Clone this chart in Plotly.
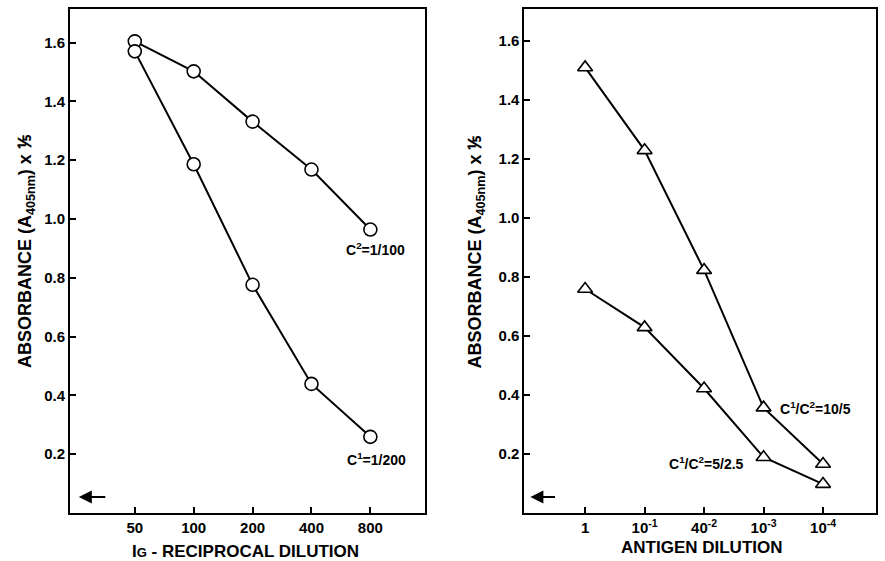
import plotly.graph_objects as go

# ---- data ----
ig_dilution = ["50", "100", "200", "400", "800"]
c2_100 = [1.604, 1.502, 1.331, 1.168, 0.964]
c1_200 = [1.570, 1.186, 0.776, 0.439, 0.259]

antigen_dilution = ["1", "10<sup>-1</sup>", "40<sup>-2</sup>", "10<sup>-3</sup>", "10<sup>-4</sup>"]
ratio_10_5 = [1.510, 1.229, 0.823, 0.357, 0.166]
ratio_5_25 = [0.759, 0.629, 0.422, 0.189, 0.098]

y_ticks = [0.2, 0.4, 0.6, 0.8, 1.0, 1.2, 1.4, 1.6]
y_ticktext = ["0.2", "0.4", "0.6", "0.8", "1.0", "1.2", "1.4", "1.6"]
blank_level = 0.054

FONT = "Liberation Sans, Arial, sans-serif"

fig = go.Figure()

line_style = dict(color="black", width=2)
circ = dict(symbol="circle", size=13, color="white", line=dict(color="black", width=1.6))
tri = dict(symbol="triangle-up", size=13, color="white", line=dict(color="black", width=1.6))

fig.add_trace(go.Scatter(x=ig_dilution, y=c2_100, mode="lines+markers", line=line_style,
                         marker=circ, xaxis="x", yaxis="y", showlegend=False))
fig.add_trace(go.Scatter(x=ig_dilution, y=c1_200, mode="lines+markers", line=line_style,
                         marker=circ, xaxis="x", yaxis="y", showlegend=False))
fig.add_trace(go.Scatter(x=antigen_dilution, y=ratio_10_5, mode="lines+markers", line=line_style,
                         marker=tri, xaxis="x2", yaxis="y2", showlegend=False))
fig.add_trace(go.Scatter(x=antigen_dilution, y=ratio_5_25, mode="lines+markers", line=line_style,
                         marker=tri, xaxis="x2", yaxis="y2", showlegend=False))

axis_common = dict(showline=True, mirror=True, linecolor="black", linewidth=2,
                   ticks="inside", ticklen=6, tickwidth=1.5, tickcolor="black",
                   showgrid=False, zeroline=False,
                   tickfont=dict(family=FONT, size=15, color="black", weight="bold"))

fig.update_layout(
    width=885, height=561,
    margin=dict(l=70, r=8, t=7, b=48),
    paper_bgcolor="white", plot_bgcolor="white",
    xaxis=dict(domain=[0, 0.4399], type="category", range=[-1.10, 4.92], anchor="y", **axis_common),
    yaxis=dict(domain=[0, 1], range=[0, 1.714], tickvals=y_ticks, ticktext=y_ticktext, anchor="x", **axis_common),
    xaxis2=dict(domain=[0.5638, 1], type="category", range=[-1.02, 4.89], anchor="y2", **axis_common),
    yaxis2=dict(domain=[0, 1], range=[0, 1.708], tickvals=y_ticks, ticktext=y_ticktext, anchor="x2", **axis_common),
)

lab_font = dict(family=FONT, size=14, color="black", weight="bold")
title_font = dict(family=FONT, size=18, color="black", weight="bold")
xtitle_font = dict(family=FONT, size=17, color="black", weight="bold")

ann = [
    dict(x=4.09, y=0.898, xref="x", yref="y", text="C<sup>2</sup>=1/100", showarrow=False, font=lab_font),
    dict(x=4.10, y=0.184, xref="x", yref="y", text="C<sup>1</sup>=1/200", showarrow=False, font=lab_font),
    dict(x=3.88, y=0.356, xref="x2", yref="y2", text="C<sup>1</sup>/C<sup>2</sup>=10/5", showarrow=False, font=lab_font),
    dict(x=2.04, y=0.170, xref="x2", yref="y2", text="C<sup>1</sup>/C<sup>2</sup>=5/2.5", showarrow=False, font=lab_font),
    # blank-level arrows
    dict(x=-0.95, y=blank_level, ax=-0.475, ay=blank_level, xref="x", yref="y", axref="x", ayref="y",
         text="", showarrow=True, arrowhead=2, arrowsize=1.3, arrowwidth=2, arrowcolor="black"),
    dict(x=-0.92, y=blank_level, ax=-0.48, ay=blank_level, xref="x2", yref="y2", axref="x2", ayref="y2",
         text="", showarrow=True, arrowhead=2, arrowsize=1.3, arrowwidth=2, arrowcolor="black"),
    # axis titles
    dict(x=(26 - 70) / 807, y=0.5198, xref="paper", yref="paper", textangle=-90, showarrow=False,
         text="ABSORBANCE (A<sub>405nm</sub>) x ⅕", font=title_font, xanchor="center", yanchor="middle"),
    dict(x=(477 - 70) / 807, y=0.5198, xref="paper", yref="paper", textangle=-90, showarrow=False,
         text="ABSORBANCE (A<sub>405nm</sub>) x ⅕", font=title_font, xanchor="center", yanchor="middle"),
    dict(x=(246 - 70) / 807, y=-0.0765, xref="paper", yref="paper", showarrow=False,
         text="I<span style='font-size:13px'>G</span> - RECIPROCAL DILUTION", font=xtitle_font,
         xanchor="center", yanchor="middle"),
    dict(x=(703 - 70) / 807, y=-0.069, xref="paper", yref="paper", showarrow=False,
         text="ANTIGEN DILUTION", font=xtitle_font, xanchor="center", yanchor="middle"),
]
fig.update_layout(annotations=ann)

fig.write_html("out.html", config={"displayModeBar": False},
               post_script="document.body.style.margin='0';")
